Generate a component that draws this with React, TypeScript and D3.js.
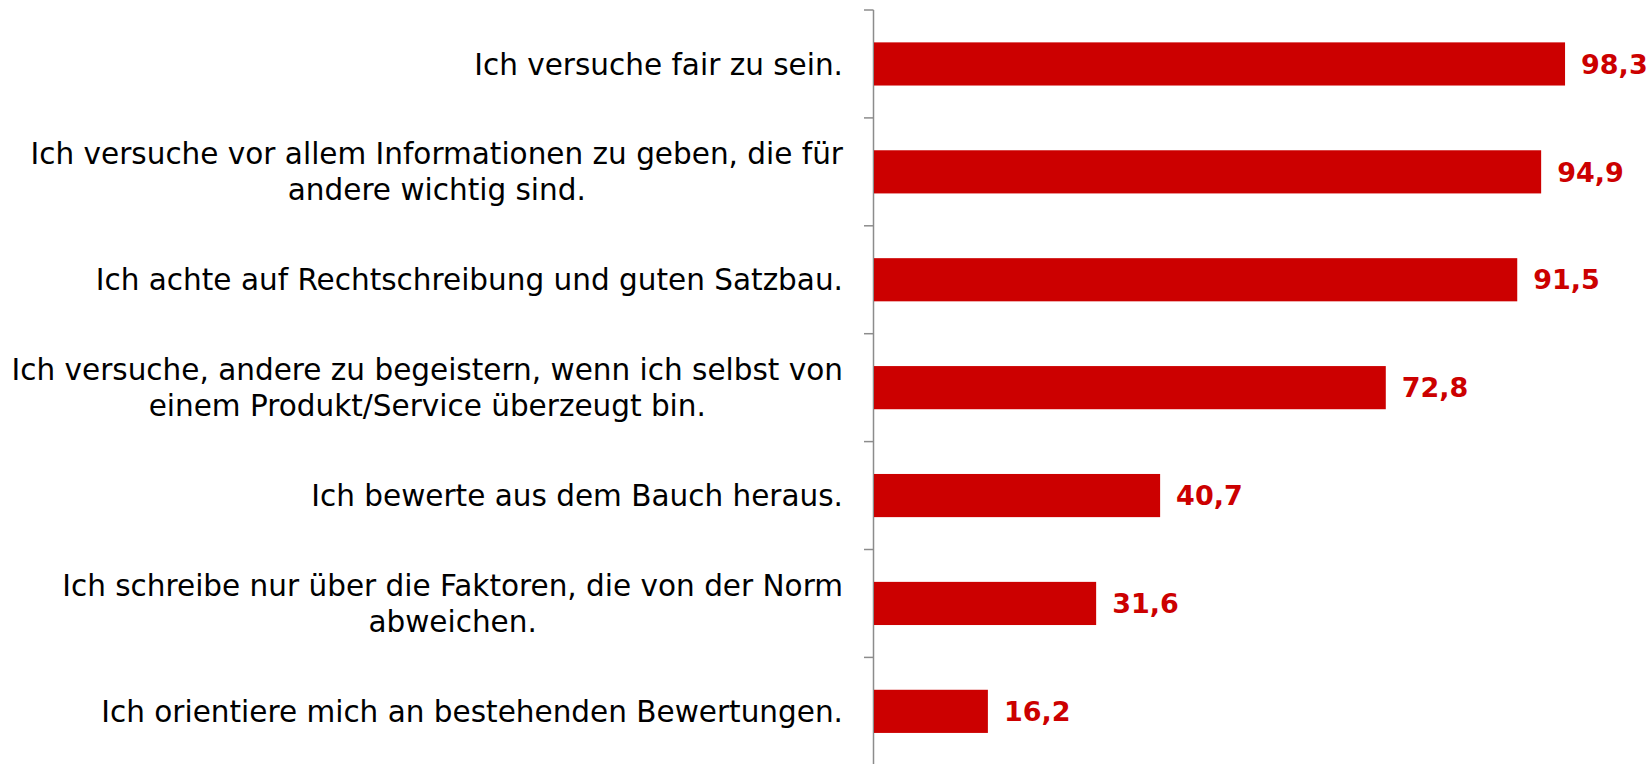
import React from "react";
import * as d3 from "d3";

const categories: string[][] = [
  ["Ich versuche fair zu sein."],
  ["Ich versuche vor allem Informationen zu geben, die für", "andere wichtig sind."],
  ["Ich achte auf Rechtschreibung und guten Satzbau."],
  ["Ich versuche, andere zu begeistern, wenn ich selbst von", "einem Produkt/Service überzeugt bin."],
  ["Ich bewerte aus dem Bauch heraus."],
  ["Ich schreibe nur über die Faktoren, die von der Norm", "abweichen."],
  ["Ich orientiere mich an bestehenden Bewertungen."],
];
const values: number[] = [98.3, 94.9, 91.5, 72.8, 40.7, 31.6, 16.2];
const valueLabels: string[] = ["98,3", "94,9", "91,5", "72,8", "40,7", "31,6", "16,2"];

const W = 1652;
const H = 764;
const AXIS_X = 873.5;
const LABEL_FONT = "29.5px 'DejaVu Sans', Verdana, sans-serif";

function measure(text: string): number {
  const c = document.createElement("canvas");
  const ctx = c.getContext("2d")!;
  ctx.font = LABEL_FONT;
  return ctx.measureText(text).width;
}

export default function App() {
  const ids = categories.map((_, i) => String(i));
  const y = d3.scaleBand<string>().domain(ids).range([10, 765.3]).paddingInner(0.6).paddingOuter(0.3);
  const x = d3.scaleLinear().domain([0, 100]).range([874, 1577]);
  const step = y.step();
  const boundaries = d3.range(categories.length + 1).map((i) => 10 + i * step);

  return (
    <svg
      width={W}
      height={H}
      style={{ position: "absolute", left: 0, top: 0, background: "#fff" }}
    >
      <line x1={AXIS_X} x2={AXIS_X} y1={10} y2={H} stroke="#8c8c8c" strokeWidth={1.5} />
      {boundaries.map((b, i) => (
        <line key={i} x1={864} x2={AXIS_X} y1={b} y2={b} stroke="#8c8c8c" strokeWidth={1.5} />
      ))}
      {values.map((v, i) => {
        const by = y(String(i))!;
        const bh = y.bandwidth();
        const cy = by + bh / 2;
        const lines = categories[i];
        const maxW = Math.max(...lines.map(measure));
        const cx = 843 - maxW / 2;
        const lh = 36;
        return (
          <g key={i}>
            <rect x={x(0)} y={by} width={x(v) - x(0)} height={bh} fill="#cc0000" />
            <text
              x={x(v) + 16}
              y={cy}
              dy="0.36em"
              fill="#cc0000"
              fontFamily="'DejaVu Sans', Verdana, sans-serif"
              fontWeight="bold"
              fontSize={27}
            >
              {valueLabels[i]}
            </text>
            {lines.map((ln, j) => (
              <text
                key={j}
                x={cx}
                y={cy + (j - (lines.length - 1) / 2) * lh}
                dy="0.36em"
                textAnchor="middle"
                fill="#000"
                style={{ font: LABEL_FONT }}
              >
                {ln}
              </text>
            ))}
          </g>
        );
      })}
    </svg>
  );
}
